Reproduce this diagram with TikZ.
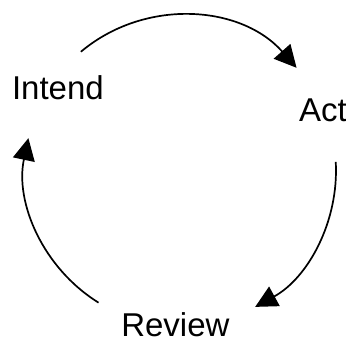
\documentclass[tikz,border=0pt]{standalone}
\usepackage{fontspec}
\setmainfont{Liberation Sans}
\usetikzlibrary{arrows.meta}

\begin{document}
\begin{tikzpicture}[x=1pt, y=1pt,
    stage/.style={anchor=base, inner sep=0pt, font=\fontsize{33}{40}\selectfont},
    cycle/.style={line width=1.7pt, -{Triangle[length=22pt, width=22pt]}}]

    \useasboundingbox (0,0) rectangle (346,340);
    % Define the stages with coordinates
    \coordinate (c) at (180.5,169.5);
    \node[stage] (intend) at (57.9,240.7) {Intend};
    \node[stage] (act) at (323,218.3) {Act};
    \node[stage] (review) at (175.4,3.8) {Review};
    % Draw the arcs of the cycle
    \draw[cycle] (c) ++(130:155) arc[start angle=130, end angle=41.5, radius=155];
    \draw[cycle] (c) ++(3.2:155.5) arc[start angle=3.2, end angle=-61.3, radius=155.5];
    \draw[cycle] (c) ++(238.2:155.5) arc[start angle=238.2, end angle=168, radius=155.5];
\end{tikzpicture}
\end{document}
